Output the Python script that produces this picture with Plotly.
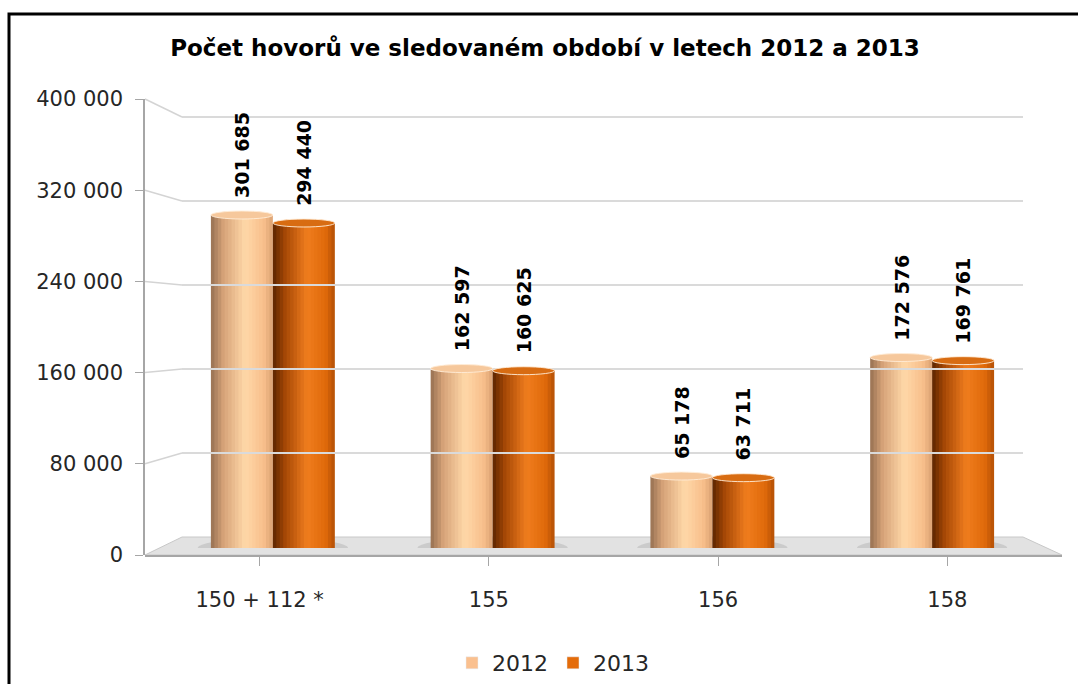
import plotly.graph_objects as go

# --- data -------------------------------------------------------------
categories = ["150 + 112 *", "155", "156", "158"]
calls_2012 = [301685, 162597, 65178, 172576]
calls_2013 = [294440, 160625, 63711, 169761]
series_names = ["2012", "2013"]
y_ticks = [0, 80000, 160000, 240000, 320000, 400000]
title_text = "Počet hovorů ve sledovaném období v letech 2012 a 2013"

# --- geometry (pixels in a 1078 x 684 canvas) -------------------------
W, H = 1078, 684
Y_MAX = 400000


def px(x):
    return x / W


def py(y):
    return 1 - y / H


# front (axis) plane, back wall, and bar plane vertical mappings
FRONT = (555, 99)    # pixel y of 0 and Y_MAX
BACK = (537, 117)
BARS = (548, 106.5)


def map_y(plane, v):
    y0, y1 = plane
    return y0 + (y1 - y0) * v / Y_MAX


BAR_W = 0.282  # width of a single cylinder in category units

# cylinder shading stops (position across the bar, colour)
shade_2012 = [(0.0, (0x96, 0x70, 0x52)), (0.2, (0xD6, 0xA2, 0x78)),
              (0.55, (0xFF, 0xD8, 0xA8)), (0.85, (0xF8, 0xBF, 0x8C)),
              (1.0, (0xDA, 0xA2, 0x72))]
shade_2013 = [(0.0, (0x5C, 0x25, 0x00)), (0.2, (0xA6, 0x48, 0x06)),
              (0.55, (0xF0, 0x7D, 0x1E)), (0.85, (0xE0, 0x6A, 0x0A)),
              (1.0, (0xB4, 0x50, 0x06))]
legend_colors = ["#FAC08F", "#E46C0A"]
top_colors = ["#F6C89C", "#D86C12"]


def shade(stops, t):
    for (t0, c0), (t1, c1) in zip(stops, stops[1:]):
        if t0 <= t <= t1:
            f = (t - t0) / (t1 - t0)
            r, g, b = (round(a + (b_ - a) * f) for a, b_ in zip(c0, c1))
            return f"rgb({r},{g},{b})"
    r, g, b = stops[-1][1]
    return f"rgb({r},{g},{b})"


fig = go.Figure()

N_STRIPS = 18
dw = BAR_W / N_STRIPS
series = [(calls_2012, shade_2012, -BAR_W), (calls_2013, shade_2013, 0.0)]
for values, stops, start in series:
    for k in range(N_STRIPS):
        t = (k + 0.5) / N_STRIPS
        # strips overlap slightly so no seams show between them
        w = dw * (1.6 if k < N_STRIPS - 1 else 1.0)
        fig.add_trace(go.Bar(
            x=list(range(len(categories))), y=values,
            width=[w] * len(values),
            offset=[start + k * dw] * len(values),
            marker=dict(color=shade(stops, t), line=dict(width=0)),
            showlegend=False, hoverinfo="skip",
            xaxis="x", yaxis="y",
        ))

# legend entries
for name, col in zip(series_names, legend_colors):
    fig.add_trace(go.Bar(x=[0], y=[None], name=name, marker_color=col,
                         xaxis="x", yaxis="y"))

shapes = []

# floor of the 3D plot area
fl = [(145, 555), (182, 537), (1023, 537), (1062, 555)]
path = "M " + " L ".join(f"{px(x)},{py(y)}" for x, y in fl) + " Z"
shapes.append(dict(type="path", path=path, xref="paper", yref="paper",
                   fillcolor="#E2E2E2", line=dict(color="#C8C8C8", width=1),
                   layer="below"))
shapes.append(dict(type="line", xref="paper", yref="paper",
                   x0=px(145), x1=px(1062), y0=py(556), y1=py(556),
                   line=dict(color="#A6A6A6", width=2), layer="below"))

# side-wall connectors from the value axis to the back-wall gridlines
for v in y_ticks[1:]:
    shapes.append(dict(type="line", xref="paper", yref="paper",
                       x0=px(145), y0=py(map_y(FRONT, v)),
                       x1=px(182), y1=py(map_y(BACK, v)),
                       line=dict(color="#D4D4D4", width=1.5), layer="below"))

# soft shadows beneath each pair of cylinders
for i in range(len(categories)):
    shapes.append(dict(type="circle", xref="x", yref="y",
                       x0=i - BAR_W - 0.06, x1=i + BAR_W + 0.06,
                       y0=-9000, y1=9000,
                       fillcolor="rgba(0,0,0,0.10)", line=dict(width=0),
                       layer="below"))

# elliptical cylinder tops
for (values, stops, start), tcol in zip(series, top_colors):
    for i, v in enumerate(values):
        shapes.append(dict(type="circle", xref="x", yref="y",
                           x0=i + start, x1=i + start + BAR_W,
                           y0=v - 3600, y1=v + 3600,
                           fillcolor=tcol,
                           line=dict(color="rgba(255,236,215,0.9)", width=1)))

# chart border (left and top)
shapes.append(dict(type="path", xref="paper", yref="paper",
                   path=f"M {px(9)},0 L {px(9)},{py(14)} L 1,{py(14)}",
                   line=dict(color="black", width=3)))

annotations = []
for (values, stops, start) in series:
    for i, v in enumerate(values):
        annotations.append(dict(
            x=i + start + BAR_W / 2, y=v, xref="x", yref="y",
            text=f"{v:,}".replace(",", " "), showarrow=False,
            textangle=-90, yanchor="bottom", xanchor="center", yshift=15,
            font=dict(family="DejaVu Sans", size=19, color="black",
                      weight="bold"),
        ))

# back wall range is padded a little so the top gridline is not clipped
BACK_PAD = 1.02
back_top_px = map_y(BACK, Y_MAX * BACK_PAD)

fig.update_layout(
    width=W, height=H,
    margin=dict(l=0, r=0, t=0, b=0, autoexpand=False),
    paper_bgcolor="white", plot_bgcolor="rgba(0,0,0,0)",
    barmode="overlay", separators=". ",
    font=dict(family="DejaVu Sans", color="#262626"),
    title=dict(text=title_text, x=px(545), y=py(48), xanchor="center",
               yanchor="middle",
               font=dict(family="DejaVu Sans", size=23, color="black",
                         weight="bold")),
    showlegend=True,
    legend=dict(orientation="h", x=px(553), y=py(663), xanchor="center",
                yanchor="middle", font=dict(size=22, color="#262626"),
                itemwidth=30, traceorder="normal", itemclick=False),
    shapes=shapes, annotations=annotations,
    # bar plane
    xaxis=dict(domain=[px(163), px(1042)], range=[-0.5, 3.5],
               visible=False, fixedrange=True),
    yaxis=dict(domain=[py(BARS[0]), py(BARS[1])], range=[0, Y_MAX],
               visible=False, fixedrange=True),
    # front category / value axes
    xaxis2=dict(domain=[px(145), px(1062)], range=[-0.5, 3.5],
                anchor="y2", tickmode="array",
                tickvals=list(range(len(categories))), ticktext=categories,
                tickson="boundaries", ticks="outside", ticklen=10,
                tickcolor="#A6A6A6", showline=False, showgrid=False,
                zeroline=False, ticklabelstandoff=16,
                tickfont=dict(size=21, color="#262626")),
    yaxis2=dict(domain=[py(FRONT[0]), py(FRONT[1])], range=[0, Y_MAX],
                anchor="x2", tickvals=y_ticks, tickformat=",d",
                ticks="outside", ticklen=8, tickcolor="#A6A6A6",
                showline=True, linecolor="#A6A6A6", linewidth=1.5,
                showgrid=False, zeroline=False, ticklabelstandoff=8,
                tickfont=dict(size=21, color="#262626")),
    # back wall gridlines
    xaxis3=dict(domain=[px(182), px(1023)], visible=False, anchor="y3"),
    yaxis3=dict(domain=[py(BACK[0]), py(back_top_px)],
                range=[0, Y_MAX * BACK_PAD],
                anchor="x3", tickvals=y_ticks[1:], showticklabels=False,
                showgrid=True, gridcolor="#DADADA", gridwidth=1.5,
                zeroline=False, showline=False, ticks=""),
)

# empty traces keep the front and back-wall axes drawn
fig.add_trace(go.Scatter(x=[None], y=[None], xaxis="x2", yaxis="y2",
                         showlegend=False, hoverinfo="skip"))
fig.add_trace(go.Scatter(x=[None], y=[None], xaxis="x3", yaxis="y3",
                         showlegend=False, hoverinfo="skip"))

fig.write_html("out.html")
